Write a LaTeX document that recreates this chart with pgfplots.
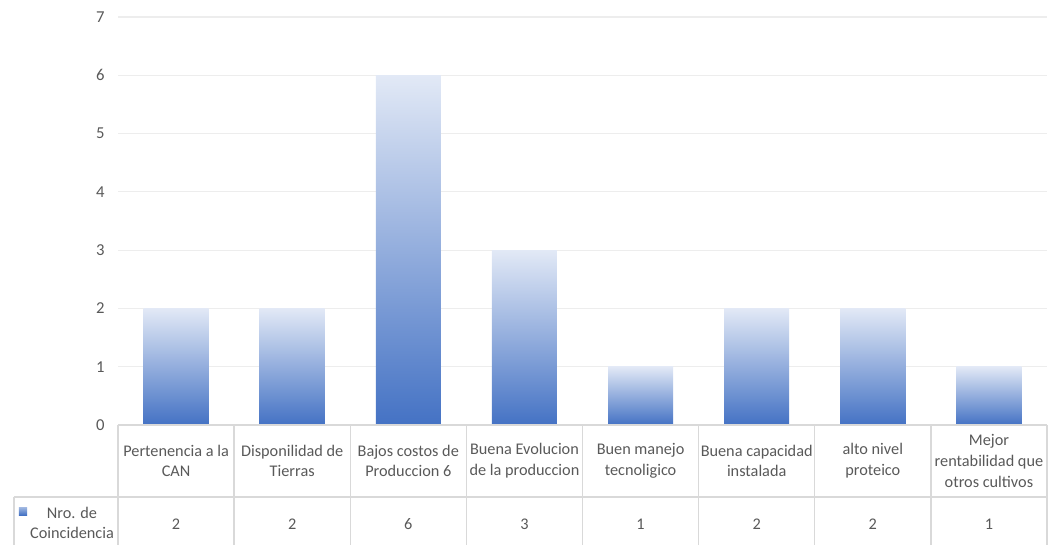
\documentclass[border=0pt]{standalone}
\usepackage{pgfplots}
\pgfplotsset{compat=1.18}
\usepackage{fontspec}
\setmainfont{Carlito}
\definecolor{txt}{HTML}{595959}
\definecolor{gridc}{HTML}{EDEDED}
\definecolor{tabc}{HTML}{D9D9D9}
\definecolor{barTop}{HTML}{E2E9F6}
\definecolor{barBot}{HTML}{4472C4}
\pgfplotsset{gbar/.style={ybar, bar width=48.75pt, bar shift=0pt, draw=none, top color=barTop, bottom color=barBot}}
\begin{document}
\begin{tikzpicture}
\begin{axis}[
  at={(0,0)}, anchor=south west,
  scale only axis,
  width=696.75pt, height=306pt,
  xmin=-0.5, xmax=7.5, ymin=0, ymax=7,
  xtick=\empty,
  ytick={0,1,2,3,4,5,6,7},
  ymajorgrids, grid style={gridc, line width=0.9pt},
  axis line style={draw=none},
  major tick length=0pt,
  /pgf/number format/assume math mode=true,
  yticklabel style={font=\fontsize{12.5}{14}\selectfont, text=txt, xshift=-6.5pt},
  clip=false,
]
\addplot[gbar] coordinates {(0,2)};
\addplot[gbar] coordinates {(1,2)};
\addplot[gbar] coordinates {(2,6)};
\addplot[gbar] coordinates {(3,3)};
\addplot[gbar] coordinates {(4,1)};
\addplot[gbar] coordinates {(5,2)};
\addplot[gbar] coordinates {(6,2)};
\addplot[gbar] coordinates {(7,1)};
\end{axis}
\begin{scope}[x=87.09375pt, y=0.75pt]
  % table lines
  \draw[tabc, line width=1pt] (0,0) -- (8,0);
  \foreach \k in {0,...,8} \draw[tabc, line width=1pt] (\k,0) -- (\k,-125);
  \draw[tabc, line width=1pt] (-0.8956,-72) -- (8,-72);
  \draw[tabc, line width=1pt] (-0.8956,-72) -- (-0.8956,-125);
  % labels
  \begin{scope}[every node/.style={text=txt, font=\fontsize{12.2}{15.6}\selectfont, align=center, inner sep=0pt}]
    \node at (0.5,-36) {Pertenencia a la\\CAN};
    \node at (1.5,-36) {Disponilidad de\\Tierras};
    \node at (2.5,-36) {Bajos costos de\\Produccion 6};
    \node at (3.5,-36) {Buena Evolucion\\de la produccion};
    \node at (4.5,-36) {Buen manejo\\tecnoligico};
    \node at (5.5,-36) {Buena capacidad\\instalada};
    \node at (6.5,-36) {alto nivel\\proteico};
    \node at (7.5,-36) {Mejor\\rentabilidad que\\otros cultivos};
    \foreach \v [count=\i from 0] in {2,2,6,3,1,2,2,1}
      \node at (\i+0.5,-99) {\v};
    \node at (-0.3960,-98) {Nro. de\\Coincidencia};
  \end{scope}
  \shade[top color=barTop!60!barBot, bottom color=barBot] (-0.8526,-82) rectangle (-0.7836,-90);
\end{scope}
\pgfresetboundingbox
\path (-88.5pt,-89.25pt) rectangle (698.25pt,318.75pt);
\end{tikzpicture}
\end{document}
